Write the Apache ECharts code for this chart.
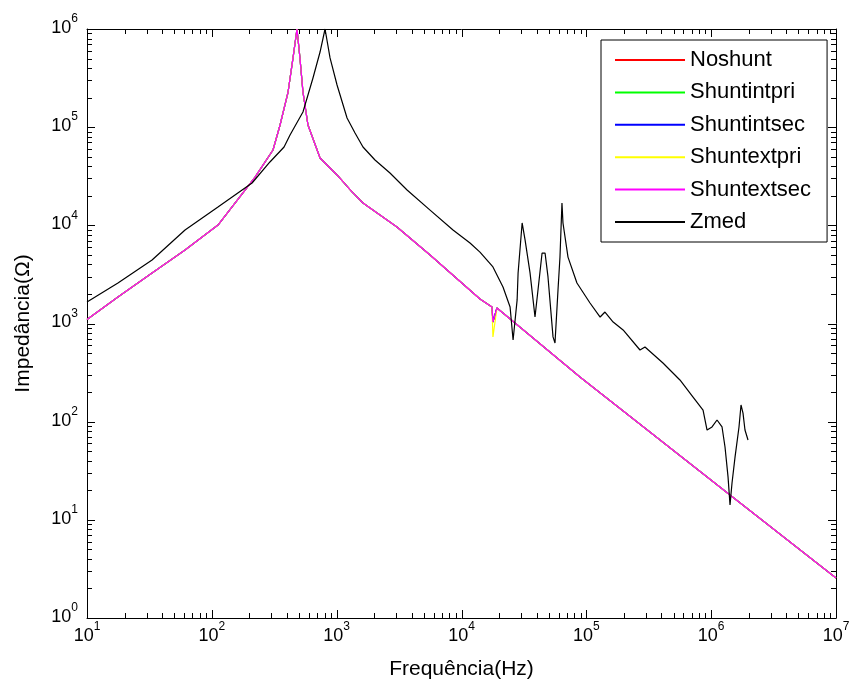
<!DOCTYPE html>
<html><head><meta charset="utf-8">
<script src="https://cdn.jsdelivr.net/npm/echarts@6/dist/echarts.min.js"></script>
<style>html,body{margin:0;padding:0;background:#fff}#c{width:850px;height:688px}</style>
</head><body><div id="c"></div>
<script>
// ---- data ----
const freqShunt = [10, 17.7, 33.2, 61, 112, 184.5, 222, 309, 352, 408, 447, 481, 508, 537, 589, 736, 1007, 1327, 1625, 3040, 5600, 14060, 17540, 17860, 19230, 88900, 1416000, 10000000];
const zShuntextsec = [1100, 1862, 3275, 5610, 10070, 22900, 31000, 58500, 105200, 228000, 507000, 1000000, 507000, 228000, 105200, 48500, 32600, 21900, 16900, 9620, 4990, 1778, 1472, 1035, 1438, 285, 17.9, 2.56];
const zShuntextpri = [1100, 1862, 3275, 5610, 10070, 22900, 31000, 58500, 105200, 228000, 507000, 1000000, 507000, 228000, 105200, 48500, 32600, 21900, 16900, 9620, 4990, 1778, 1472, 730, 1438, 285, 17.9, 2.56];
const zNoshunt = [1100, 1862, 3275, 5610, 10070, 22900, 31000, 58500, 105200, 228000, 507000, 1000000, 507000, 228000, 105200, 48500, 32600, 21900, 16900, 9620, 4990, 1778, 1472, 1035, 1438, 285, 17.9, 2.56];
const zShuntintpri = zNoshunt;
const zShuntintsec = zNoshunt;

const freqZmed = [10, 17.7, 33.2, 61, 112, 210, 292, 379, 423, 537, 646, 736, 807, 885, 1007, 1211, 1403, 1625, 2028, 2673, 3664, 5600, 8550, 11700, 14060, 17860, 21500, 24500, 25900, 27900, 28400, 30600, 32300, 35400, 38800, 41000, 44200, 46700, 49300, 54100, 56100, 59300, 61500, 63800, 65000, 71300, 84100, 107000, 129000, 141000, 164000, 197000, 269000, 295000, 411000, 562000, 716000, 861000, 927000, 1016000, 1114000, 1222000, 1291000, 1365000, 1416000, 1469000, 1553000, 1671000, 1734000, 1799000, 1866000, 1973000];
const zZmed = [1656, 2588, 4436, 8970, 15380, 27000, 44200, 62800, 83200, 142800, 317000, 583000, 1000000, 507000, 269000, 124000, 87300, 62800, 46300, 34100, 22900, 14300, 8970, 6610, 5340, 3770, 2356, 1472, 680, 1738, 3275, 10570, 7100, 3275, 1164, 2193, 5220, 5220, 2980, 730, 632, 2193, 4750, 16900, 10570, 4750, 2588, 1618, 1164, 1309, 1035, 859, 537, 577, 396, 266, 178, 131, 82.2, 88.3, 104, 88.3, 55.2, 27.4, 14.2, 23.7, 43.6, 88.3, 148, 122, 82.2, 65];

const seriesNames = ['Noshunt', 'Shuntintpri', 'Shuntintsec', 'Shuntextpri', 'Shuntextsec', 'Zmed'];
const seriesColors = ['#ff0000', '#00ff00', '#0000ff', '#ffff00', '#ff00ff', '#000000'];

const xMajorTicks = [1e1, 1e2, 1e3, 1e4, 1e5, 1e6, 1e7];
const yMajorTicks = [1e0, 1e1, 1e2, 1e3, 1e4, 1e5, 1e6];
const minorMultipliers = [2, 3, 4, 5, 6, 7, 8, 9];
function minorOf(decades) {
  const out = [];
  decades.slice(0, -1).forEach(d => minorMultipliers.forEach(m => out.push(d * m)));
  return out;
}
const xMinorTicks = minorOf(xMajorTicks);
const yMinorTicks = minorOf(yMajorTicks);

// ---- chart ----
const FONT = 'Liberation Sans, Arial, sans-serif';
const rich = {
  b: { fontSize: 18, fontFamily: FONT, color: '#000', lineHeight: 18, verticalAlign: 'bottom' },
  s: { fontSize: 12, fontFamily: FONT, color: '#000', lineHeight: 12, verticalAlign: 'bottom', padding: [0, 0, 12, 0] }
};
function powLabel(v) {
  const e = Math.round(Math.log10(v));
  return '{b|10}{s|' + e + '}';
}
function mkAxis(kind, pos, withLabels) {
  const isX = kind === 'x';
  const ax = {
    type: 'log', logBase: 10,
    min: isX ? 10 : 1, max: isX ? 1e7 : 1e6,
    position: pos,
    axisLine: { show: true, onZero: false, lineStyle: { color: '#000', width: 1 } },
    axisTick: { show: false },
    axisLabel: { show: false },
    splitLine: { show: false },
    minorTick: { show: false },
    minorSplitLine: { show: false }
  };
  if (withLabels) {
    ax.axisLabel = {
      show: true, customValues: isX ? xMajorTicks : yMajorTicks,
      formatter: powLabel, rich: rich,
      margin: isX ? 9 : 9,
      padding: isX ? [0, 0, 0, 0] : [0, 0, 2, 0]
    };
  }
  return ax;
}

const xAxes = [mkAxis('x', 'bottom', true), mkAxis('x', 'top', false)];
xAxes[0].name = 'Frequência(Hz)';
xAxes[0].nameLocation = 'middle';
xAxes[0].nameGap = 41;
xAxes[0].nameTextStyle = { fontSize: 21, fontFamily: FONT, color: '#000' };

const yAxes = [mkAxis('y', 'left', true), mkAxis('y', 'right', false)];
yAxes[0].name = 'Impedância(Ω)';
yAxes[0].nameLocation = 'middle';
yAxes[0].nameGap = 53;
yAxes[0].nameTextStyle = { fontSize: 21, fontFamily: FONT, color: '#000' };

function pairs(f, z) { return f.map((v, i) => [v, z[i]]); }
const seriesData = [
  pairs(freqShunt, zNoshunt),
  pairs(freqShunt, zShuntintpri),
  pairs(freqShunt, zShuntintsec),
  pairs(freqShunt, zShuntextpri),
  pairs(freqShunt, zShuntextsec),
  pairs(freqZmed, zZmed)
];

// tick marks (MATLAB style, inward, on all four sides) placed through the axes' scales
const xTickData = xMajorTicks.map(v => [v, 1, 1]).concat(xMinorTicks.map(v => [v, 1, 0]));
const yTickData = yMajorTicks.map(v => [10, v, 1]).concat(yMinorTicks.map(v => [10, v, 0]));
function tickLine(x1, y1, x2, y2) {
  return { type: 'line', shape: { x1, y1, x2, y2 }, style: { stroke: '#000', lineWidth: 1 } };
}
function renderXTick(params, api) {
  const cs = params.coordSys;
  const x = Math.round(api.coord([api.value(0), api.value(1)])[0]) + 0.5;
  const len = api.value(2) ? 8 : 5;
  const yb = cs.y + cs.height, yt = cs.y;
  return { type: 'group', children: [tickLine(x, yb, x, yb - len), tickLine(x, yt, x, yt + len)] };
}
function renderYTick(params, api) {
  const cs = params.coordSys;
  const y = Math.round(api.coord([api.value(0), api.value(1)])[1]) + 0.5;
  const len = api.value(2) ? 8 : 5;
  const xl = cs.x, xr = cs.x + cs.width;
  return { type: 'group', children: [tickLine(xl, y, xl + len, y), tickLine(xr, y, xr - len, y)] };
}

const lineSeries = seriesNames.map((n, i) => ({
  name: n, type: 'line', data: seriesData[i],
  xAxisIndex: 0, yAxisIndex: 0,
  symbol: 'none', showSymbol: false,
  lineStyle: { color: seriesColors[i], width: 1.2 },
  itemStyle: { color: seriesColors[i] },
  clip: true, z: 2
}));

const chart = echarts.init(document.getElementById('c'), null, { renderer: 'canvas' });
chart.setOption({
  animation: false,
  backgroundColor: '#fff',
  grid: { left: 87, right: 14, top: 29, bottom: 70, containLabel: false, outerBoundsMode: 'none' },
  xAxis: xAxes,
  yAxis: yAxes,
  legend: {
    data: seriesNames,
    orient: 'vertical',
    left: 601, top: 40,
    padding: [9, 16, 9, 13],
    itemWidth: 70, itemHeight: 14, itemGap: 10.4,
    itemStyle: { opacity: 0 },
    backgroundColor: '#fff',
    borderColor: '#000', borderWidth: 1, borderRadius: 0,
    textStyle: { fontSize: 22, fontFamily: FONT, color: '#000', lineHeight: 22 },
    z: 10
  },
  series: lineSeries.concat([
    { name: 'xticks', type: 'custom', data: xTickData, encode: { x: 0, y: 1 }, renderItem: renderXTick, clip: false, silent: true, z: 3 },
    { name: 'yticks', type: 'custom', data: yTickData, encode: { x: 0, y: 1 }, renderItem: renderYTick, clip: false, silent: true, z: 3 }
  ])
});
</script></body></html>
